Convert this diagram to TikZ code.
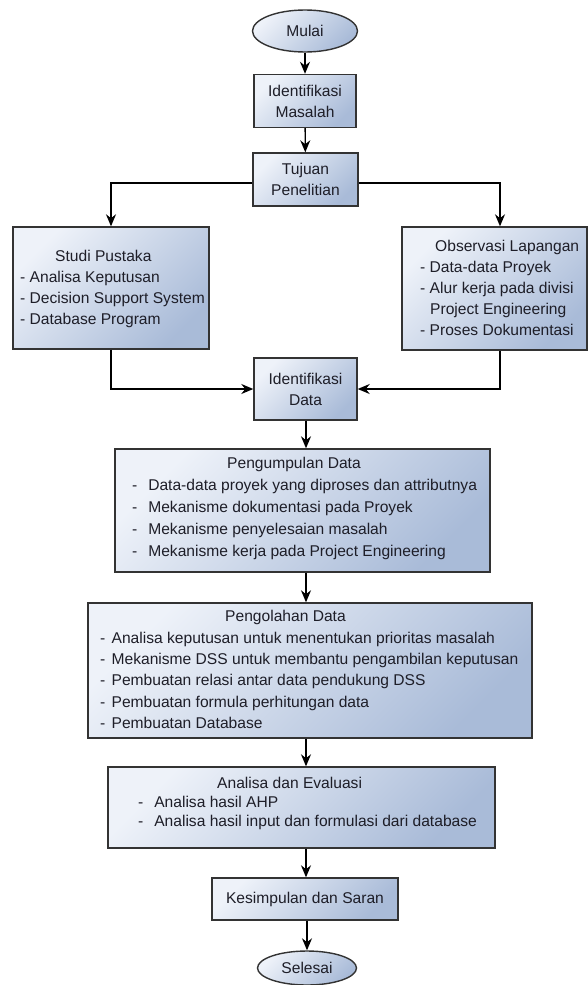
\documentclass[tikz,border=0pt]{standalone}
\usepackage{fontspec}
\setmainfont{Liberation Sans}
\usetikzlibrary{shapes.geometric,arrows.meta}
\definecolor{boxlight}{HTML}{EEF2F9}
\definecolor{boxdark}{HTML}{A9BBD8}
\definecolor{edgecol}{HTML}{333333}
\definecolor{txtcol}{HTML}{1E1E28}
\begin{document}
\begin{tikzpicture}[x=1pt,y=-1pt,
  every node/.style={font=\fontsize{15.6}{21}\selectfont, text=txtcol},
  flowbox/.style={draw=edgecol, line width=1.4pt, top color=boxlight, bottom color=boxdark, shading angle=45, inner sep=0pt, align=center},
  termbox/.style={ellipse, draw=edgecol, line width=1.4pt, top color=boxlight, bottom color=boxdark, shading angle=45, inner sep=0pt},
  txt/.style={inner sep=0pt, anchor=west},
  conn/.style={draw=black, line width=1.4pt, -{Stealth[length=12pt,width=10pt]}}]
\useasboundingbox (0,0) rectangle (588,985);
\coordinate (ax) at (306,0);

\node[termbox, minimum width=105, minimum height=42] (mulai) at (305,31) {Mulai};
\node[flowbox, minimum width=102, minimum height=53] (idm) at (305,101) {Identifikasi\\Masalah};
\node[flowbox, minimum width=105, minimum height=53] (tuj) at (305.5,179.5) {Tujuan\\Penelitian};

\node[flowbox, minimum width=196, minimum height=122] (studi) at (111,288) {};
\node[txt] (studit) at (20,288.5) {\begin{tabular}{@{}l@{}}\hspace{35pt}Studi Pustaka\\- Analisa Keputusan\\- Decision Support System\\- Database Program\end{tabular}};

\node[flowbox, minimum width=185, minimum height=123] (obs) at (494.5,288.5) {};
\node[txt] (obst) at (420,289.5) {\begin{tabular}{@{}l@{}}\hspace{15pt}Observasi Lapangan\\- Data-data Proyek\\- Alur kerja pada divisi\\\hspace{10pt}Project Engineering\\- Proses Dokumentasi\end{tabular}};

\node[flowbox, minimum width=103, minimum height=62] (idd) at (305.5,389) {Identifikasi\\Data};

\node[flowbox, minimum width=375, minimum height=123] (peng) at (302.5,510.5) {};
\node[txt] (pengt) at (132,508) {\fontsize{15.6}{22}\selectfont\begin{tabular}{@{}l@{}}\hspace{95pt}Pengumpulan Data\\-\hspace{0.7em}Data-data proyek yang diproses dan attributnya\\-\hspace{0.7em}Mekanisme dokumentasi pada Proyek\\-\hspace{0.7em}Mekanisme penyelesaian masalah\\-\hspace{0.7em}Mekanisme kerja pada Project Engineering\end{tabular}};

\node[flowbox, minimum width=444, minimum height=135] (olah) at (310,670.5) {};
\node[txt] (olaht) at (100,671) {\fontsize{15.6}{21.4}\selectfont\begin{tabular}{@{}l@{}}\hspace{125pt}Pengolahan Data\\-\hspace{0.4em}Analisa keputusan untuk menentukan prioritas masalah\\-\hspace{0.4em}Mekanisme DSS untuk membantu pengambilan keputusan\\-\hspace{0.4em}Pembuatan relasi antar data pendukung DSS\\-\hspace{0.4em}Pembuatan formula perhitungan data\\-\hspace{0.4em}Pembuatan Database\end{tabular}};

\node[flowbox, minimum width=387, minimum height=81] (anal) at (301.5,807.5) {};
\node[txt] (analt) at (138,804) {\fontsize{15.6}{19}\selectfont\begin{tabular}{@{}l@{}}\hspace{79pt}Analisa dan Evaluasi\\-\hspace{0.7em}Analisa hasil AHP\\-\hspace{0.7em}Analisa hasil input dan formulasi dari database\end{tabular}};

\node[flowbox, minimum width=186, minimum height=42] (kes) at (305,899) {Kesimpulan dan Saran};
\node[termbox, minimum width=99, minimum height=34] (sel) at (307,968) {Selesai};

\draw[conn] (mulai) -- (idm);
\draw[conn] (idm) -- (tuj);
\draw[conn] ([yshift=-3.5pt]tuj.west) -| (studi.north);
\draw[conn] ([yshift=-3.5pt]tuj.east) -| ([xshift=5.5pt]obs.north);
\draw[conn] (studi.south) |- (idd.west);
\draw[conn] ([xshift=5.5pt]obs.south) |- (idd.east);
\draw[conn] (idd.south -| ax) -- (peng.north -| ax);
\draw[conn] (peng.south -| ax) -- (olah.north -| ax);
\draw[conn] (olah.south -| ax) -- (anal.north -| ax);
\draw[conn] (anal.south -| ax) -- (kes.north -| ax);
\draw[conn] (kes.south -| sel.north) -- (sel.north);
\end{tikzpicture}
\end{document}
